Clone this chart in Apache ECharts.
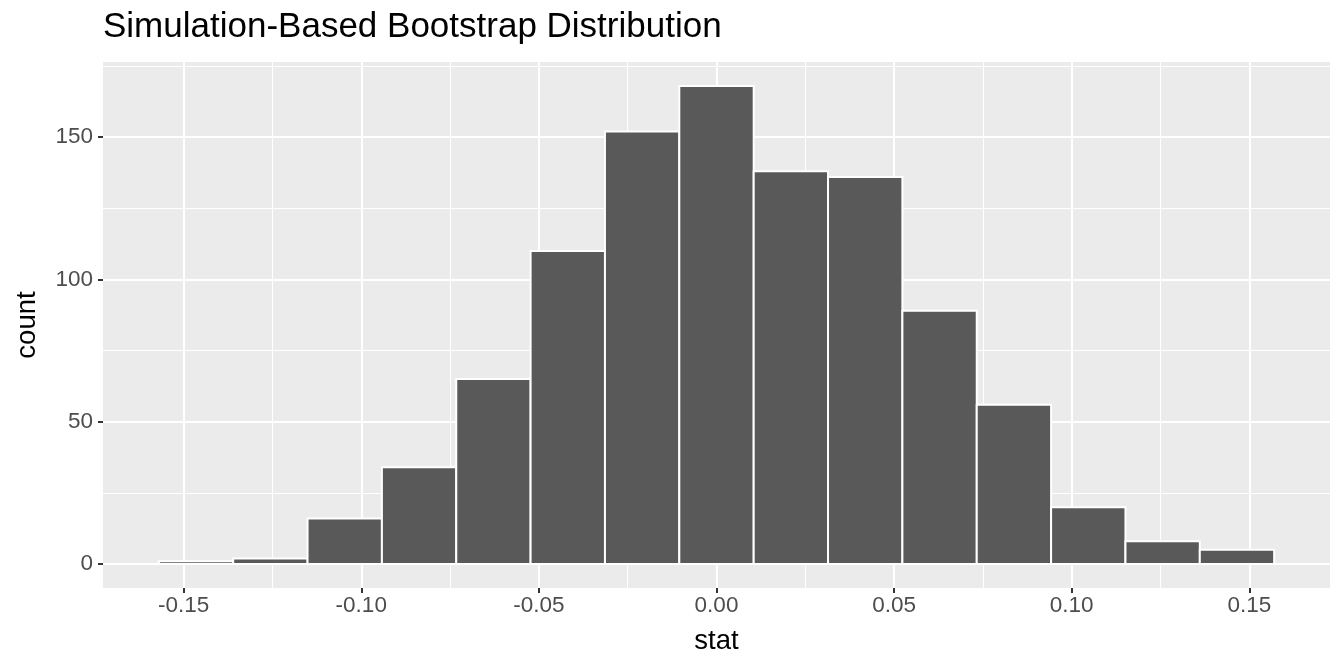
<!DOCTYPE html>
<html>
<head>
<meta charset="utf-8">
<script src="https://cdn.jsdelivr.net/npm/echarts@6/dist/echarts.min.js"></script>
<style>
html,body{margin:0;padding:0;background:#fff;}
#chart{width:1344px;height:672px;}
</style>
</head>
<body>
<div id="chart"></div>
<script>
// Histogram bins (left and right edges of each bin) and counts
const binLeft  = [-0.15698, -0.13605, -0.11512, -0.09419, -0.07326, -0.05233, -0.03140, -0.01047, 0.01047, 0.03140, 0.05233, 0.07326, 0.09419, 0.11512, 0.13605];
const binRight = [-0.13605, -0.11512, -0.09419, -0.07326, -0.05233, -0.03140, -0.01047, 0.01047, 0.03140, 0.05233, 0.07326, 0.09419, 0.11512, 0.13605, 0.15698];
const counts   = [1, 2, 16, 34, 65, 110, 152, 168, 138, 136, 89, 56, 20, 8, 5];

const xTicks = [-0.15, -0.10, -0.05, 0.00, 0.05, 0.10, 0.15];
const xTickLabels = ['-0.15', '-0.10', '-0.05', '0.00', '0.05', '0.10', '0.15'];
const xMinor = [-0.175, -0.125, -0.075, -0.025, 0.025, 0.075, 0.125];
const yTicks = [0, 50, 100, 150];
const yMinor = [25, 75, 125, 175];

const xRange = [-0.1727, 0.1727];
const yRange = [-8.4, 176.4];

const FONT = '"Liberation Sans", Arial, Helvetica, sans-serif';

const chart = echarts.init(document.getElementById('chart'), null, {renderer: 'canvas'});

const data = counts.map((c, i) => [binLeft[i], binRight[i], c]);

const option = {
  backgroundColor: '#ffffff',
  animation: false,
  title: {
    text: 'Simulation-Based Bootstrap Distribution',
    left: 98,
    top: 5,
    textStyle: {fontFamily: FONT, fontSize: 35, fontWeight: 'normal', color: '#000000'}
  },
  grid: {left: 103, right: 14, top: 62, bottom: 84, show: true, backgroundColor: '#EBEBEB', borderWidth: 0},
  xAxis: [
    {
      type: 'value', min: xRange[0], max: xRange[1],
      name: 'stat', nameLocation: 'middle', nameGap: 39,
      nameTextStyle: {fontFamily: FONT, fontSize: 27.5, color: '#000000'},
      axisLine: {show: false, onZero: false},
      axisTick: {show: true, length: 5, lineStyle: {color: '#333333', width: 2}, customValues: xTicks},
      axisLabel: {
        customValues: xTicks, margin: 6,
        fontFamily: FONT, fontSize: 22.5, color: '#4D4D4D',
        formatter: v => { const i = xTicks.findIndex(t => Math.abs(t - v) < 1e-9); return i >= 0 ? xTickLabels[i] : ''; }
      },
      splitLine: {show: true, lineStyle: {color: '#ffffff', width: 2.1}}
    },
    {
      type: 'value', min: xRange[0], max: xRange[1], position: 'bottom',
      axisLine: {show: false, onZero: false},
      axisTick: {show: false, customValues: xMinor},
      axisLabel: {show: false, customValues: xMinor},
      splitLine: {show: true, lineStyle: {color: '#ffffff', width: 1.05}}
    }
  ],
  yAxis: [
    {
      type: 'value', min: yRange[0], max: yRange[1],
      name: 'count', nameLocation: 'middle', nameGap: 62, nameRotate: 90,
      nameTextStyle: {fontFamily: FONT, fontSize: 27.5, color: '#000000'},
      axisLine: {show: false, onZero: false},
      axisTick: {show: true, length: 5, lineStyle: {color: '#333333', width: 2}, customValues: yTicks},
      axisLabel: {customValues: yTicks, margin: 10, fontFamily: FONT, fontSize: 22.5, color: '#4D4D4D'},
      splitLine: {show: true, lineStyle: {color: '#ffffff', width: 2.1}}
    },
    {
      type: 'value', min: yRange[0], max: yRange[1], position: 'left',
      axisLine: {show: false, onZero: false},
      axisTick: {show: false, customValues: yMinor},
      axisLabel: {show: false, customValues: yMinor},
      splitLine: {show: true, lineStyle: {color: '#ffffff', width: 1.05}}
    }
  ],
  series: [{
    type: 'custom',
    xAxisIndex: 0, yAxisIndex: 0,
    data: data,
    encode: {x: [0, 1], y: 2},
    renderItem: function (params, api) {
      const p0 = api.coord([api.value(0), 0]);
      const p1 = api.coord([api.value(1), api.value(2)]);
      return {
        type: 'rect',
        shape: {x: p0[0], y: p1[1], width: p1[0] - p0[0], height: p0[1] - p1[1]},
        style: {fill: '#595959', stroke: '#ffffff', lineWidth: 2}
      };
    }
  }]
};
chart.setOption(option);
</script>
</body>
</html>
